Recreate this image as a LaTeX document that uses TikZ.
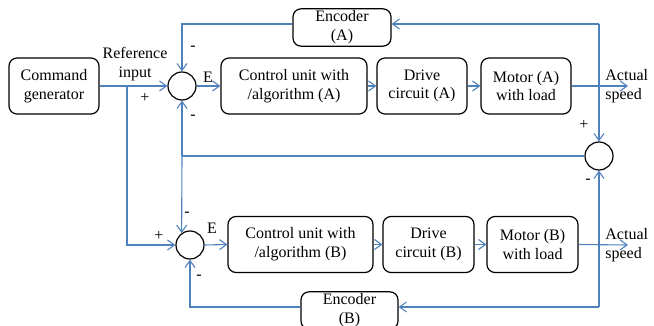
\documentclass[tikz,border=0pt]{standalone}
\usepackage{fontspec}
\setmainfont{Liberation Serif}
\newfontfamily\diagfont{Liberation Serif}
\usepackage{tikz}
\usetikzlibrary{arrows.meta,positioning,calc}
\definecolor{wire}{HTML}{4F81BD}

\begin{document}
\begin{tikzpicture}[x=0.5pt,y=-0.5pt,
  font=\diagfont\fontsize{8}{9.4}\selectfont,
  block/.style={draw,rounded corners=4pt,line width=0.6pt,align=center,minimum height=28pt,inner sep=1pt},
  sumc/.style={draw,circle,line width=0.6pt,minimum size=14pt,inner sep=0pt},
  flow/.style={draw=wire,line width=0.55pt,-{Straight Barb[length=3.5pt,width=5pt]}},
  wireline/.style={draw=wire,line width=0.55pt},
  lbl/.style={inner sep=0pt}]
  \useasboundingbox (0,0) rectangle (654,326);
  % upper loop (A)
  \node[block,minimum width=45pt] (cmd) at (54,86) {Command\\generator};
  \node[sumc] (sumA) at (182,86) {};
  \node[block,minimum width=73pt] (ctlA) at (294,86) {Control unit with\\/algorithm (A)};
  \node[block,minimum width=45pt] (drvA) at (422,86) {Drive\\circuit (A)};
  \node[block,minimum width=45pt] (motA) at (526,86) {Motor (A)\\with load};
  \node[block,minimum width=49pt,minimum height=17.5pt] (encA) at (342,27.5) {Encoder\\(A)};
  % comparator on the right
  \node[sumc] (cmp) at (599,156) {};
  % lower loop (B)
  \node[sumc] (sumB) at (190,245) {};
  \node[block,minimum width=72.5pt] (ctlB) at (300.5,244.5) {Control unit with\\/algorithm (B)};
  \node[block,minimum width=45.5pt] (drvB) at (428.5,244.5) {Drive\\circuit (B)};
  \node[block,minimum width=45.5pt] (motB) at (532.5,244.5) {Motor (B)\\with load};
  \node[block,minimum width=48.5pt,minimum height=17.5pt] (encB) at (349.5,310.5) {Encoder\\(B)};

  \coordinate (br) at (127,86);
  \coordinate (cnrA) at (599,24);
  \coordinate (outA) at (628,86);
  \coordinate (jn) at (182,156);
  \coordinate (cnrB) at (599,307);
  \coordinate (outB) at (628,245);

  % forward paths
  \draw[flow] (cmd.east) -- (sumA.west);
  \draw[flow] (sumA.east) -- (ctlA.west);
  \draw[flow] (ctlA.east) -- (drvA.west);
  \draw[flow] (drvA.east) -- (motA.west);
  \draw[flow] (motA.east) -- (outA);
  \draw[flow] (br) |- (sumB.west);
  \draw[flow] (sumB.east) -- (ctlB.west);
  \draw[flow] (ctlB.east) -- (drvB.west);
  \draw[flow] (drvB.east) -- (motB.west);
  \draw[flow] (motB.east) -- (outB);
  % feedback
  \draw[flow] (cnrA) -- (cnrA -| encA.east);
  \draw[flow] (encA.west |- cnrA) -| (sumA.north);
  \draw[flow] (cnrA) -- (cmp.north);
  \draw[flow] (cnrB) -- (cmp.south);
  \draw[flow] (cnrB) -- (cnrB -| encB.east);
  \draw[flow] (encB.west |- cnrB) -| (sumB.south);
  \draw[wireline] (cmp.west) -- (jn);
  \draw[flow] (jn) -- (sumA.south);
  \draw[flow] (jn) -- (sumB.125);

  % labels
  \node[align=center,lbl] (ref) at (135,64) {Reference\\input};
  \node[align=left,anchor=west,lbl] (spdA) at (605,86) {Actual\\speed};
  \node[align=left,anchor=west,lbl] (spdB) at (605,245) {Actual\\speed};
  \node[lbl] (mA1) at (193,48) {-};
  \node[lbl] (eA) at (208,77) {E};
  \node[lbl] (pA) at (145,98) {+};
  \node[lbl] (mA2) at (193,117) {-};
  \node[lbl] (pC) at (584,125) {+};
  \node[lbl] (mC) at (588,181) {-};
  \node[lbl] (mB1) at (187,214) {-};
  \node[lbl] (eB) at (212,228) {E};
  \node[lbl] (pB) at (159,236) {+};
  \node[lbl] (mB2) at (199,277) {-};
\end{tikzpicture}
\end{document}
